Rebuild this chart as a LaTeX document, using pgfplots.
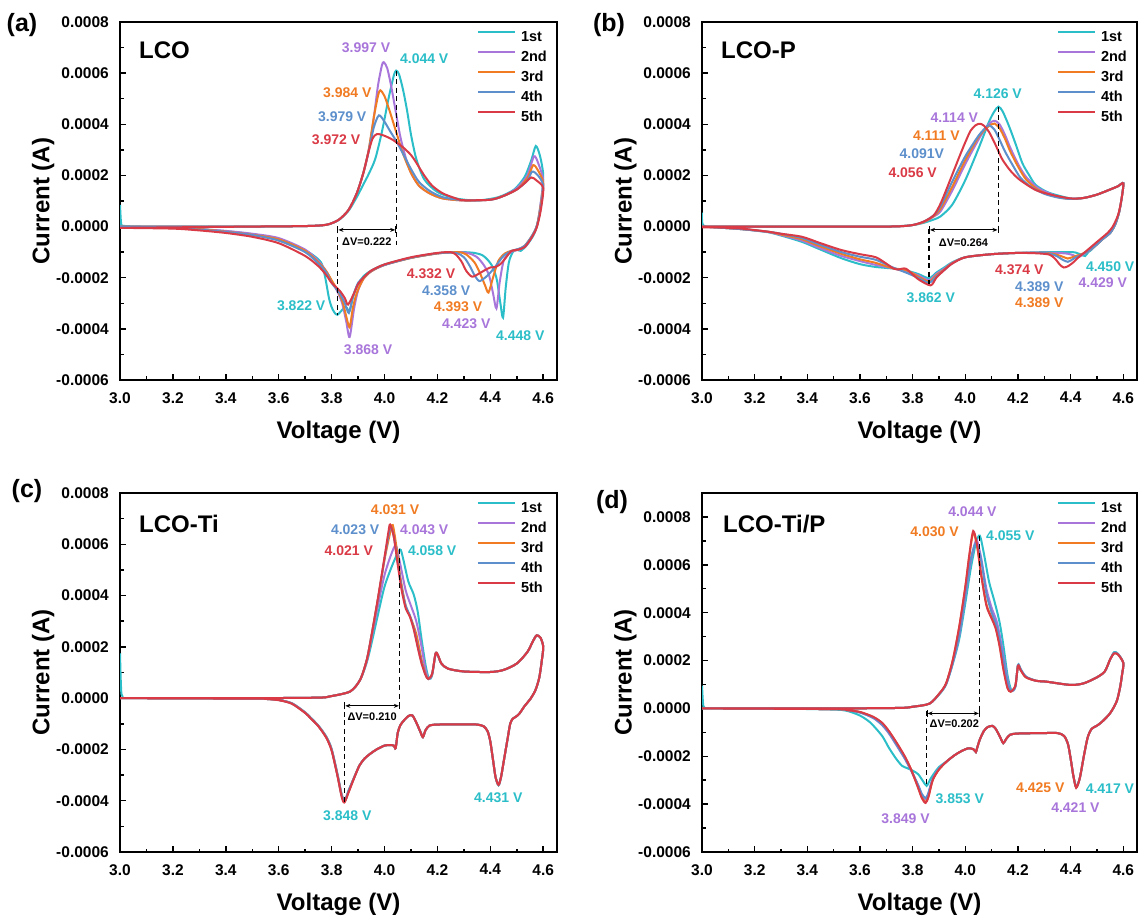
\documentclass[border=0pt]{standalone}
\usepackage{fontspec}
\setmainfont{Liberation Sans}
\usepackage{pgfplots}
\pgfplotsset{compat=1.18}
\usepackage{pgfplotstable}
\usetikzlibrary{arrows.meta}

\definecolor{c1}{RGB}{43,190,200}
\definecolor{c2}{RGB}{168,118,218}
\definecolor{c3}{RGB}{240,123,34}
\definecolor{c4}{RGB}{92,143,203}
\definecolor{c5}{RGB}{217,58,69}

% Cyclic voltammograms, five cycles per sample.
% V = voltage (V), i = current in units of 1e-4 A.
% Each table runs 3.0 -> 4.6 V (anodic) and back to 3.0 V (cathodic).

% ---------------- LCO ----------------
\pgfplotstableread{
V i
3.000 0.85
3.004 0.15
3.012 0.03
3.100 0.00
3.300 0.00
3.500 0.00
3.700 0.02
3.780 0.07
3.826 0.25
3.864 0.62
3.895 1.15
3.920 1.65
3.940 2.05
3.965 2.65
3.990 3.70
4.015 5.00
4.035 5.90
4.044 6.10
4.055 5.95
4.070 5.35
4.085 4.55
4.100 3.60
4.120 2.65
4.150 1.85
4.200 1.35
4.270 1.10
4.350 1.02
4.430 1.15
4.490 1.45
4.530 1.95
4.555 2.60
4.572 3.15
4.588 2.75
4.600 2.00
4.592 1.00
4.580 0.20
4.565 -0.30
4.540 -0.70
4.515 -0.95
4.500 -0.90
4.485 -1.00
4.470 -1.40
4.458 -2.40
4.448 -3.56
4.438 -3.00
4.425 -2.10
4.410 -1.60
4.390 -1.30
4.370 -1.12
4.340 -1.03
4.300 -1.00
4.250 -1.00
4.200 -1.05
4.100 -1.22
4.000 -1.48
3.950 -1.72
3.920 -1.95
3.895 -2.35
3.880 -2.80
3.868 -3.30
3.855 -3.15
3.845 -3.20
3.822 -3.45
3.810 -3.35
3.800 -3.15
3.790 -2.80
3.775 -1.95
3.760 -1.40
3.720 -1.05
3.650 -0.70
3.600 -0.50
3.500 -0.30
3.400 -0.18
3.300 -0.10
3.200 -0.05
3.100 -0.02
3.000 0.00
}\Aone
\pgfplotstableread{
V i
3.000 0.00
3.300 0.00
3.500 0.00
3.700 0.02
3.780 0.07
3.826 0.26
3.864 0.65
3.895 1.30
3.920 2.10
3.940 2.95
3.960 4.30
3.975 5.50
3.990 6.30
3.997 6.43
4.010 6.20
4.025 5.50
4.044 4.40
4.060 3.50
4.080 2.70
4.100 2.10
4.130 1.60
4.170 1.30
4.220 1.10
4.300 1.02
4.400 1.05
4.450 1.20
4.500 1.50
4.540 2.00
4.565 2.75
4.582 2.45
4.600 1.80
4.590 0.90
4.578 0.10
4.560 -0.35
4.535 -0.75
4.510 -0.90
4.490 -0.95
4.470 -1.05
4.450 -1.35
4.435 -2.20
4.423 -3.20
4.410 -2.60
4.395 -1.90
4.375 -1.50
4.350 -1.20
4.320 -1.05
4.280 -1.00
4.200 -1.05
4.100 -1.22
4.000 -1.50
3.950 -1.75
3.920 -2.05
3.900 -2.50
3.885 -3.20
3.868 -4.32
3.855 -3.70
3.840 -3.00
3.820 -2.50
3.800 -2.15
3.780 -1.75
3.750 -1.35
3.700 -0.90
3.600 -0.45
3.500 -0.28
3.400 -0.17
3.300 -0.10
3.200 -0.05
3.000 0.00
}\Atwo
\pgfplotstableread{
V i
3.000 0.00
3.300 0.00
3.500 0.00
3.700 0.02
3.780 0.07
3.826 0.26
3.864 0.65
3.895 1.30
3.920 2.10
3.940 3.00
3.960 4.30
3.975 5.10
3.984 5.33
4.000 5.10
4.020 4.50
4.044 3.70
4.070 2.85
4.100 2.10
4.130 1.60
4.170 1.30
4.220 1.10
4.300 1.02
4.400 1.05
4.450 1.20
4.500 1.45
4.540 1.90
4.562 2.40
4.580 2.20
4.600 1.70
4.590 0.80
4.575 0.00
4.555 -0.40
4.530 -0.75
4.505 -0.90
4.480 -0.95
4.455 -1.05
4.430 -1.35
4.410 -2.00
4.393 -2.58
4.380 -2.30
4.360 -1.80
4.340 -1.40
4.310 -1.10
4.280 -1.00
4.200 -1.05
4.100 -1.23
4.000 -1.50
3.950 -1.75
3.920 -2.05
3.895 -2.60
3.880 -3.20
3.868 -3.94
3.855 -3.50
3.840 -2.90
3.820 -2.45
3.800 -2.10
3.780 -1.75
3.750 -1.40
3.700 -0.95
3.600 -0.50
3.500 -0.32
3.400 -0.20
3.300 -0.10
3.200 -0.05
3.000 0.00
}\Athree
\pgfplotstableread{
V i
3.000 0.00
3.300 0.00
3.500 0.00
3.700 0.02
3.780 0.07
3.826 0.26
3.864 0.65
3.895 1.30
3.920 2.10
3.940 2.95
3.960 3.90
3.979 4.35
4.000 4.10
4.020 3.75
4.044 3.35
4.070 2.85
4.100 2.25
4.130 1.75
4.170 1.40
4.220 1.15
4.300 1.03
4.400 1.05
4.450 1.20
4.500 1.45
4.540 1.80
4.558 2.15
4.580 2.00
4.600 1.60
4.590 0.70
4.575 0.00
4.555 -0.40
4.530 -0.75
4.505 -0.88
4.480 -0.95
4.450 -1.15
4.420 -1.55
4.400 -1.80
4.380 -2.00
4.358 -2.13
4.340 -1.90
4.320 -1.50
4.300 -1.20
4.270 -1.03
4.200 -1.04
4.100 -1.22
4.000 -1.50
3.950 -1.73
3.920 -2.00
3.900 -2.20
3.880 -2.75
3.865 -3.38
3.850 -3.00
3.830 -2.60
3.800 -2.20
3.780 -1.80
3.750 -1.45
3.700 -1.00
3.600 -0.55
3.500 -0.33
3.400 -0.21
3.300 -0.12
3.200 -0.06
3.000 -0.02
}\Afour
\pgfplotstableread{
V i
3.000 -0.05
3.300 -0.02
3.500 0.00
3.700 0.02
3.780 0.07
3.826 0.26
3.864 0.65
3.895 1.30
3.920 2.10
3.939 2.90
3.955 3.45
3.972 3.62
4.000 3.55
4.030 3.40
4.044 3.30
4.070 3.10
4.100 2.80
4.120 2.50
4.150 2.00
4.180 1.60
4.220 1.30
4.270 1.10
4.300 1.03
4.400 1.05
4.450 1.20
4.500 1.45
4.530 1.70
4.555 1.92
4.575 1.80
4.600 1.50
4.590 0.60
4.575 -0.05
4.555 -0.45
4.530 -0.80
4.505 -0.90
4.480 -0.95
4.460 -1.20
4.440 -1.45
4.420 -1.58
4.400 -1.60
4.380 -1.70
4.360 -1.82
4.332 -1.96
4.310 -1.75
4.290 -1.35
4.270 -1.10
4.250 -1.00
4.200 -1.03
4.100 -1.20
4.000 -1.48
3.950 -1.72
3.920 -2.00
3.900 -2.25
3.885 -2.60
3.862 -3.05
3.850 -2.80
3.830 -2.50
3.800 -2.20
3.780 -1.90
3.750 -1.55
3.700 -1.15
3.600 -0.65
3.500 -0.40
3.400 -0.25
3.300 -0.15
3.200 -0.08
3.000 -0.05
}\Afive

% ---------------- LCO-P ----------------
\pgfplotstableread{
V i
3.000 0.55
3.004 0.05
3.050 0.00
3.300 0.00
3.500 0.00
3.700 0.00
3.794 0.05
3.843 0.15
3.881 0.28
3.906 0.40
3.950 0.85
4.000 1.82
4.050 3.05
4.090 4.10
4.110 4.50
4.126 4.69
4.142 4.50
4.167 3.90
4.192 3.20
4.217 2.47
4.242 2.02
4.267 1.63
4.316 1.33
4.400 1.10
4.450 1.12
4.500 1.25
4.550 1.45
4.580 1.58
4.600 1.70
4.595 1.20
4.585 0.60
4.570 0.10
4.550 -0.25
4.520 -0.50
4.500 -0.68
4.480 -0.90
4.467 -1.00
4.455 -1.15
4.440 -1.10
4.420 -1.02
4.400 -1.00
4.300 -1.00
4.200 -1.03
4.100 -1.08
4.000 -1.20
3.950 -1.40
3.920 -1.60
3.890 -1.80
3.862 -2.02
3.820 -1.85
3.775 -1.72
3.725 -1.64
3.660 -1.58
3.600 -1.47
3.530 -1.24
3.450 -0.90
3.380 -0.60
3.300 -0.35
3.250 -0.22
3.150 -0.10
3.050 -0.03
3.000 0.00
}\Bone
\pgfplotstableread{
V i
3.000 0.00
3.300 0.00
3.700 0.00
3.794 0.05
3.843 0.18
3.881 0.40
3.906 0.60
3.950 1.40
4.000 2.45
4.050 3.40
4.080 3.90
4.100 4.10
4.114 4.13
4.130 4.00
4.150 3.60
4.170 3.10
4.200 2.45
4.230 1.95
4.270 1.55
4.300 1.38
4.350 1.18
4.400 1.09
4.450 1.12
4.500 1.25
4.550 1.45
4.580 1.58
4.600 1.70
4.595 1.20
4.585 0.60
4.570 0.10
4.550 -0.25
4.520 -0.50
4.500 -0.70
4.470 -0.95
4.445 -1.10
4.429 -1.20
4.410 -1.12
4.380 -1.05
4.300 -1.02
4.200 -1.03
4.100 -1.08
4.000 -1.20
3.950 -1.42
3.920 -1.65
3.890 -1.85
3.862 -2.10
3.820 -1.90
3.775 -1.75
3.725 -1.63
3.660 -1.50
3.600 -1.35
3.530 -1.15
3.450 -0.85
3.380 -0.55
3.300 -0.33
3.250 -0.21
3.150 -0.10
3.050 -0.03
3.000 0.00
}\Btwo
\pgfplotstableread{
V i
3.000 0.00
3.300 0.00
3.700 0.00
3.794 0.05
3.843 0.18
3.881 0.42
3.906 0.70
3.950 1.55
4.000 2.60
4.050 3.50
4.080 3.85
4.100 4.00
4.111 4.03
4.130 3.85
4.150 3.45
4.170 2.95
4.200 2.35
4.230 1.85
4.270 1.48
4.300 1.32
4.350 1.15
4.400 1.08
4.450 1.12
4.500 1.25
4.550 1.45
4.580 1.58
4.600 1.70
4.595 1.20
4.585 0.60
4.570 0.10
4.550 -0.25
4.520 -0.50
4.500 -0.70
4.460 -1.00
4.420 -1.15
4.400 -1.22
4.389 -1.25
4.370 -1.18
4.340 -1.08
4.300 -1.03
4.200 -1.03
4.100 -1.08
4.000 -1.20
3.950 -1.43
3.920 -1.68
3.890 -1.90
3.862 -2.15
3.820 -1.95
3.775 -1.70
3.725 -1.63
3.660 -1.42
3.600 -1.28
3.530 -1.07
3.450 -0.78
3.380 -0.50
3.300 -0.31
3.250 -0.20
3.150 -0.10
3.050 -0.03
3.000 0.00
}\Bthree
\pgfplotstableread{
V i
3.000 0.00
3.300 0.00
3.700 0.00
3.794 0.05
3.843 0.20
3.881 0.45
3.906 0.80
3.950 1.75
4.000 2.75
4.050 3.55
4.080 3.90
4.091 3.96
4.110 3.80
4.130 3.40
4.150 2.95
4.180 2.40
4.210 1.90
4.250 1.55
4.300 1.28
4.350 1.14
4.400 1.08
4.450 1.12
4.500 1.25
4.550 1.45
4.580 1.58
4.600 1.70
4.595 1.20
4.585 0.60
4.570 0.10
4.550 -0.25
4.520 -0.50
4.500 -0.70
4.460 -1.00
4.420 -1.20
4.400 -1.33
4.389 -1.38
4.370 -1.30
4.340 -1.12
4.300 -1.04
4.200 -1.03
4.100 -1.08
4.000 -1.20
3.950 -1.44
3.920 -1.70
3.890 -1.95
3.862 -2.20
3.820 -2.00
3.775 -1.80
3.725 -1.60
3.660 -1.30
3.600 -1.18
3.530 -1.00
3.450 -0.72
3.380 -0.45
3.300 -0.28
3.250 -0.20
3.150 -0.10
3.050 -0.03
3.000 0.00
}\Bfour
\pgfplotstableread{
V i
3.000 0.00
3.300 0.00
3.700 0.00
3.794 0.05
3.843 0.20
3.881 0.45
3.906 0.90
3.930 1.50
3.950 2.02
3.980 2.80
4.000 3.30
4.020 3.75
4.040 3.97
4.056 4.02
4.070 3.95
4.090 3.70
4.110 3.30
4.130 2.85
4.142 2.60
4.170 2.20
4.204 1.85
4.267 1.43
4.329 1.24
4.400 1.10
4.450 1.12
4.500 1.25
4.550 1.45
4.580 1.58
4.600 1.68
4.592 1.00
4.580 0.45
4.560 0.00
4.540 -0.25
4.500 -0.60
4.460 -0.95
4.430 -1.20
4.410 -1.40
4.390 -1.55
4.374 -1.60
4.360 -1.50
4.340 -1.25
4.320 -1.10
4.280 -1.05
4.200 -1.03
4.100 -1.08
4.000 -1.20
3.950 -1.45
3.920 -1.70
3.890 -2.00
3.868 -2.30
3.820 -2.05
3.775 -1.65
3.745 -1.68
3.725 -1.63
3.700 -1.45
3.660 -1.20
3.600 -1.08
3.530 -0.92
3.450 -0.65
3.380 -0.40
3.300 -0.28
3.250 -0.20
3.150 -0.08
3.050 -0.03
3.000 -0.03
}\Bfive

% ---------------- LCO-Ti ----------------
\pgfplotstableread{
V i
3.000 1.75
3.004 0.40
3.010 0.05
3.050 0.00
3.500 0.00
3.750 0.02
3.794 0.07
3.870 0.26
3.908 0.72
3.933 1.40
3.950 2.10
3.975 3.25
4.000 4.35
4.030 5.20
4.058 5.80
4.070 5.45
4.090 4.55
4.110 4.05
4.125 3.40
4.140 2.30
4.155 1.30
4.168 0.75
4.180 0.90
4.193 1.72
4.202 1.65
4.215 1.35
4.240 1.15
4.300 1.04
4.400 1.02
4.450 1.10
4.500 1.35
4.540 1.80
4.560 2.20
4.575 2.45
4.590 2.35
4.600 2.00
4.595 1.50
4.585 0.80
4.570 0.30
4.550 -0.05
4.530 -0.30
4.510 -0.60
4.497 -0.72
4.485 -0.80
4.475 -1.00
4.465 -1.60
4.450 -2.50
4.440 -3.10
4.431 -3.40
4.420 -3.10
4.410 -2.40
4.400 -1.70
4.390 -1.30
4.375 -1.10
4.350 -1.03
4.300 -1.02
4.200 -1.03
4.170 -1.07
4.155 -1.25
4.145 -1.52
4.135 -1.30
4.120 -0.95
4.105 -0.67
4.090 -0.70
4.075 -0.85
4.060 -1.05
4.050 -1.35
4.042 -1.95
4.035 -1.85
4.020 -1.83
4.000 -1.85
3.970 -2.00
3.946 -2.17
3.925 -2.35
3.905 -2.63
3.885 -3.10
3.864 -3.60
3.850 -3.98
3.838 -3.75
3.823 -3.00
3.800 -1.98
3.780 -1.50
3.750 -1.07
3.720 -0.75
3.700 -0.55
3.650 -0.20
3.600 -0.07
3.550 -0.03
3.500 -0.02
3.000 0.00
}\Cone
\pgfplotstableread{
V i
3.000 0.00
3.050 0.00
3.500 0.00
3.750 0.02
3.794 0.07
3.870 0.26
3.908 0.72
3.933 1.45
3.950 2.30
3.975 3.60
4.000 4.80
4.025 5.60
4.043 5.95
4.060 5.20
4.080 4.20
4.100 3.60
4.120 3.00
4.140 2.00
4.155 1.10
4.167 0.75
4.180 0.92
4.193 1.73
4.202 1.66
4.215 1.35
4.240 1.15
4.300 1.04
4.400 1.02
4.450 1.10
4.500 1.35
4.540 1.80
4.560 2.20
4.575 2.45
4.590 2.35
4.600 2.00
4.595 1.50
4.585 0.80
4.570 0.30
4.550 -0.05
4.530 -0.30
4.510 -0.60
4.497 -0.72
4.485 -0.80
4.475 -1.00
4.465 -1.60
4.450 -2.50
4.440 -3.10
4.431 -3.38
4.420 -3.10
4.410 -2.40
4.400 -1.70
4.390 -1.30
4.375 -1.10
4.350 -1.03
4.300 -1.02
4.200 -1.03
4.170 -1.07
4.155 -1.25
4.145 -1.52
4.135 -1.30
4.120 -0.95
4.105 -0.67
4.090 -0.70
4.075 -0.85
4.060 -1.05
4.050 -1.35
4.042 -1.95
4.035 -1.85
4.020 -1.83
4.000 -1.85
3.970 -2.00
3.946 -2.17
3.925 -2.35
3.905 -2.63
3.885 -3.10
3.864 -3.62
3.850 -4.00
3.838 -3.78
3.823 -3.02
3.800 -2.00
3.780 -1.52
3.750 -1.08
3.720 -0.76
3.700 -0.56
3.650 -0.20
3.600 -0.07
3.550 -0.03
3.500 -0.02
3.000 0.00
}\Ctwo
\pgfplotstableread{
V i
3.000 0.00
3.050 0.00
3.500 0.00
3.750 0.02
3.794 0.07
3.870 0.26
3.908 0.72
3.933 1.50
3.950 2.40
3.975 3.85
4.000 5.40
4.020 6.40
4.031 6.75
4.045 5.90
4.060 4.70
4.080 3.60
4.100 3.10
4.120 2.50
4.140 1.50
4.155 0.95
4.166 0.75
4.180 0.95
4.193 1.74
4.202 1.66
4.215 1.35
4.240 1.15
4.300 1.04
4.400 1.02
4.450 1.10
4.500 1.35
4.540 1.80
4.560 2.20
4.575 2.45
4.590 2.35
4.600 2.00
4.595 1.50
4.585 0.80
4.570 0.30
4.550 -0.05
4.530 -0.30
4.510 -0.60
4.497 -0.72
4.485 -0.80
4.475 -1.00
4.465 -1.60
4.450 -2.50
4.440 -3.10
4.431 -3.38
4.420 -3.10
4.410 -2.40
4.400 -1.70
4.390 -1.30
4.375 -1.10
4.350 -1.03
4.300 -1.02
4.200 -1.03
4.170 -1.07
4.155 -1.25
4.145 -1.52
4.135 -1.30
4.120 -0.95
4.105 -0.67
4.090 -0.70
4.075 -0.85
4.060 -1.05
4.050 -1.35
4.042 -1.95
4.035 -1.85
4.020 -1.83
4.000 -1.85
3.970 -2.00
3.946 -2.17
3.925 -2.35
3.905 -2.63
3.885 -3.10
3.864 -3.65
3.850 -4.03
3.838 -3.80
3.823 -3.05
3.800 -2.02
3.780 -1.53
3.750 -1.09
3.720 -0.77
3.700 -0.57
3.650 -0.21
3.600 -0.07
3.550 -0.03
3.500 -0.02
3.000 0.00
}\Cthree
\pgfplotstableread{
V i
3.000 0.00
3.050 0.00
3.500 0.00
3.750 0.02
3.794 0.07
3.870 0.26
3.908 0.72
3.933 1.50
3.950 2.40
3.975 3.85
4.000 5.45
4.015 6.35
4.023 6.70
4.035 6.30
4.050 5.30
4.065 4.30
4.080 3.60
4.095 3.25
4.110 2.75
4.125 2.05
4.140 1.40
4.155 0.92
4.166 0.75
4.180 0.95
4.193 1.74
4.202 1.66
4.215 1.35
4.240 1.15
4.300 1.04
4.400 1.02
4.450 1.10
4.500 1.35
4.540 1.80
4.560 2.20
4.575 2.45
4.590 2.35
4.600 2.00
4.595 1.50
4.585 0.80
4.570 0.30
4.550 -0.05
4.530 -0.30
4.510 -0.60
4.497 -0.72
4.485 -0.80
4.475 -1.00
4.465 -1.60
4.450 -2.50
4.440 -3.10
4.431 -3.38
4.420 -3.10
4.410 -2.40
4.400 -1.70
4.390 -1.30
4.375 -1.10
4.350 -1.03
4.300 -1.02
4.200 -1.03
4.170 -1.07
4.155 -1.25
4.145 -1.52
4.135 -1.30
4.120 -0.95
4.105 -0.67
4.090 -0.70
4.075 -0.85
4.060 -1.05
4.050 -1.35
4.042 -1.95
4.035 -1.85
4.020 -1.83
4.000 -1.85
3.970 -2.00
3.946 -2.17
3.925 -2.35
3.905 -2.63
3.885 -3.10
3.864 -3.63
3.850 -4.02
3.838 -3.80
3.823 -3.05
3.800 -2.02
3.780 -1.53
3.750 -1.09
3.720 -0.77
3.700 -0.57
3.650 -0.21
3.600 -0.07
3.550 -0.03
3.500 -0.02
3.000 0.00
}\Cfour
\pgfplotstableread{
V i
3.000 0.00
3.050 0.00
3.500 0.00
3.750 0.02
3.794 0.07
3.870 0.26
3.908 0.72
3.933 1.50
3.950 2.40
3.975 3.90
4.000 5.50
4.015 6.50
4.021 6.77
4.035 6.30
4.050 5.20
4.065 4.20
4.080 3.50
4.095 3.20
4.110 2.70
4.125 2.00
4.140 1.35
4.155 0.90
4.165 0.75
4.180 0.95
4.193 1.75
4.202 1.68
4.215 1.35
4.240 1.15
4.300 1.04
4.400 1.02
4.450 1.10
4.500 1.35
4.540 1.80
4.560 2.20
4.575 2.45
4.590 2.35
4.600 2.00
4.595 1.50
4.585 0.80
4.570 0.30
4.550 -0.05
4.530 -0.30
4.510 -0.60
4.497 -0.72
4.485 -0.80
4.475 -1.00
4.465 -1.60
4.450 -2.50
4.440 -3.10
4.431 -3.38
4.420 -3.10
4.410 -2.40
4.400 -1.70
4.390 -1.30
4.375 -1.10
4.350 -1.03
4.300 -1.02
4.200 -1.03
4.170 -1.07
4.155 -1.25
4.145 -1.52
4.135 -1.30
4.120 -0.95
4.105 -0.67
4.090 -0.70
4.075 -0.85
4.060 -1.05
4.050 -1.35
4.042 -1.95
4.035 -1.85
4.020 -1.83
4.000 -1.85
3.970 -2.00
3.946 -2.17
3.925 -2.35
3.905 -2.63
3.885 -3.12
3.864 -3.68
3.848 -4.07
3.838 -3.85
3.823 -3.08
3.800 -2.05
3.780 -1.55
3.750 -1.10
3.720 -0.78
3.700 -0.58
3.650 -0.22
3.600 -0.08
3.550 -0.03
3.500 -0.02
3.000 0.00
}\Cfive

% ---------------- LCO-Ti/P ----------------
\pgfplotstableread{
V i
3.000 0.95
3.004 0.20
3.010 0.03
3.050 0.00
3.500 0.00
3.750 0.02
3.801 0.07
3.864 0.20
3.902 0.60
3.927 1.00
3.952 1.85
3.977 2.90
4.000 4.40
4.020 5.80
4.040 6.90
4.055 7.22
4.070 6.50
4.090 5.30
4.110 4.50
4.130 3.60
4.145 2.60
4.160 1.40
4.175 0.75
4.190 0.90
4.200 1.82
4.210 1.65
4.230 1.33
4.270 1.15
4.306 1.12
4.400 0.98
4.450 1.05
4.500 1.30
4.530 1.55
4.550 2.05
4.565 2.35
4.580 2.28
4.600 1.90
4.595 1.40
4.588 0.90
4.575 0.30
4.550 -0.20
4.520 -0.55
4.500 -0.72
4.480 -0.85
4.465 -1.20
4.450 -2.00
4.435 -2.90
4.421 -3.28
4.410 -2.80
4.400 -2.10
4.390 -1.50
4.375 -1.15
4.350 -1.03
4.300 -1.03
4.200 -1.05
4.170 -1.10
4.155 -1.28
4.144 -1.45
4.130 -1.15
4.115 -0.85
4.103 -0.73
4.085 -0.78
4.070 -0.95
4.055 -1.30
4.045 -1.65
4.040 -1.82
4.030 -1.70
4.010 -1.67
3.986 -1.78
3.960 -1.95
3.931 -2.20
3.900 -2.45
3.876 -2.80
3.865 -3.00
3.853 -3.24
3.840 -3.05
3.821 -2.75
3.800 -2.60
3.780 -2.50
3.760 -2.40
3.739 -2.13
3.710 -1.65
3.684 -1.15
3.640 -0.60
3.600 -0.30
3.550 -0.10
3.500 -0.05
3.300 -0.01
3.000 0.00
}\Done
\pgfplotstableread{
V i
3.000 0.00
3.050 0.00
3.500 0.00
3.750 0.02
3.801 0.07
3.864 0.20
3.902 0.62
3.927 1.02
3.952 1.90
3.977 3.05
4.000 4.70
4.020 6.10
4.035 6.85
4.044 7.03
4.060 6.30
4.080 5.00
4.100 4.20
4.120 3.60
4.140 2.50
4.160 1.20
4.174 0.72
4.190 0.92
4.200 1.80
4.210 1.63
4.230 1.32
4.270 1.15
4.306 1.12
4.400 0.98
4.450 1.05
4.500 1.30
4.530 1.55
4.550 2.05
4.565 2.32
4.580 2.26
4.600 1.90
4.595 1.40
4.588 0.90
4.575 0.30
4.550 -0.20
4.520 -0.55
4.500 -0.72
4.480 -0.85
4.465 -1.20
4.450 -2.00
4.435 -2.90
4.421 -3.30
4.410 -2.80
4.400 -2.10
4.390 -1.50
4.375 -1.15
4.350 -1.03
4.300 -1.03
4.200 -1.05
4.170 -1.10
4.155 -1.28
4.144 -1.45
4.130 -1.15
4.115 -0.85
4.103 -0.73
4.085 -0.78
4.070 -0.95
4.055 -1.30
4.045 -1.65
4.040 -1.82
4.030 -1.70
4.010 -1.67
3.986 -1.78
3.960 -1.95
3.931 -2.20
3.900 -2.52
3.876 -2.95
3.860 -3.55
3.849 -3.80
3.835 -3.60
3.820 -3.20
3.794 -2.60
3.770 -2.10
3.739 -1.55
3.710 -1.05
3.684 -0.70
3.650 -0.40
3.600 -0.17
3.550 -0.07
3.500 -0.03
3.000 0.00
}\Dtwo
\pgfplotstableread{
V i
3.000 0.00
3.050 0.00
3.500 0.00
3.750 0.02
3.801 0.07
3.864 0.20
3.902 0.63
3.927 1.05
3.952 2.00
3.977 3.40
4.000 5.05
4.015 6.35
4.030 7.35
4.045 6.75
4.060 5.60
4.080 4.35
4.100 3.80
4.115 3.40
4.130 2.65
4.145 1.65
4.160 0.88
4.172 0.70
4.190 0.95
4.200 1.78
4.210 1.60
4.230 1.30
4.270 1.15
4.306 1.12
4.400 0.98
4.450 1.05
4.500 1.30
4.530 1.55
4.550 2.05
4.565 2.30
4.580 2.25
4.600 1.90
4.595 1.40
4.588 0.90
4.575 0.30
4.550 -0.20
4.520 -0.55
4.500 -0.72
4.480 -0.85
4.465 -1.20
4.450 -2.00
4.435 -2.90
4.421 -3.30
4.410 -2.80
4.400 -2.10
4.390 -1.50
4.375 -1.15
4.350 -1.03
4.300 -1.03
4.200 -1.05
4.170 -1.10
4.155 -1.28
4.144 -1.45
4.130 -1.15
4.115 -0.85
4.103 -0.73
4.085 -0.78
4.070 -0.95
4.055 -1.30
4.045 -1.65
4.040 -1.82
4.030 -1.70
4.010 -1.67
3.986 -1.78
3.960 -1.95
3.931 -2.20
3.900 -2.55
3.876 -3.00
3.860 -3.68
3.849 -3.92
3.835 -3.72
3.820 -3.28
3.794 -2.55
3.770 -2.02
3.739 -1.45
3.710 -0.96
3.684 -0.62
3.650 -0.36
3.600 -0.15
3.550 -0.07
3.500 -0.03
3.000 0.00
}\Dthree
\pgfplotstableread{
V i
3.000 0.00
3.050 0.00
3.500 0.00
3.750 0.02
3.801 0.07
3.864 0.20
3.902 0.62
3.927 1.02
3.952 1.90
3.977 3.10
4.000 4.80
4.020 6.20
4.040 6.90
4.060 6.20
4.080 4.80
4.100 4.00
4.120 3.40
4.140 2.30
4.160 1.10
4.174 0.72
4.190 0.92
4.200 1.80
4.210 1.63
4.230 1.32
4.270 1.15
4.306 1.12
4.400 0.98
4.450 1.05
4.500 1.30
4.530 1.55
4.550 2.05
4.565 2.32
4.580 2.26
4.600 1.90
4.595 1.40
4.588 0.90
4.575 0.30
4.550 -0.20
4.520 -0.55
4.500 -0.72
4.480 -0.85
4.465 -1.20
4.450 -2.00
4.435 -2.90
4.421 -3.28
4.410 -2.80
4.400 -2.10
4.390 -1.50
4.375 -1.15
4.350 -1.03
4.300 -1.03
4.200 -1.05
4.170 -1.10
4.155 -1.28
4.144 -1.45
4.130 -1.15
4.115 -0.85
4.103 -0.73
4.085 -0.78
4.070 -0.95
4.055 -1.30
4.045 -1.65
4.040 -1.82
4.030 -1.70
4.010 -1.67
3.986 -1.78
3.960 -1.95
3.931 -2.20
3.900 -2.52
3.876 -2.95
3.860 -3.52
3.850 -3.75
3.835 -3.58
3.820 -3.18
3.794 -2.58
3.770 -2.08
3.739 -1.52
3.710 -1.02
3.684 -0.68
3.650 -0.39
3.600 -0.17
3.550 -0.07
3.500 -0.03
3.000 0.00
}\Dfour
\pgfplotstableread{
V i
3.000 0.00
3.050 0.00
3.500 0.00
3.750 0.02
3.801 0.07
3.864 0.20
3.902 0.63
3.927 1.05
3.952 2.00
3.977 3.43
4.000 5.10
4.015 6.40
4.030 7.41
4.045 6.80
4.060 5.60
4.080 4.30
4.100 3.75
4.115 3.35
4.130 2.60
4.145 1.60
4.160 0.85
4.172 0.70
4.190 0.95
4.200 1.78
4.210 1.60
4.230 1.30
4.270 1.15
4.306 1.12
4.400 0.98
4.450 1.05
4.500 1.30
4.530 1.55
4.550 2.05
4.565 2.30
4.580 2.25
4.600 1.90
4.595 1.40
4.588 0.90
4.575 0.30
4.550 -0.20
4.520 -0.55
4.500 -0.72
4.480 -0.85
4.465 -1.20
4.450 -2.00
4.435 -2.90
4.421 -3.32
4.410 -2.80
4.400 -2.10
4.390 -1.50
4.375 -1.15
4.350 -1.03
4.300 -1.03
4.200 -1.05
4.170 -1.10
4.155 -1.28
4.144 -1.45
4.130 -1.15
4.115 -0.85
4.103 -0.73
4.085 -0.78
4.070 -0.95
4.055 -1.30
4.045 -1.65
4.040 -1.82
4.030 -1.70
4.010 -1.67
3.986 -1.78
3.960 -1.95
3.931 -2.20
3.900 -2.55
3.876 -3.00
3.860 -3.70
3.849 -3.95
3.835 -3.75
3.820 -3.30
3.794 -2.55
3.770 -2.00
3.739 -1.43
3.710 -0.95
3.684 -0.60
3.650 -0.35
3.600 -0.15
3.550 -0.07
3.500 -0.03
3.000 0.00
}\Dfive

\newcommand{\tickfont}{\fontsize{15.5}{16}\selectfont\bfseries}
\newcommand{\labfont}{\fontsize{24}{24}\selectfont\bfseries}
\newcommand{\annfont}{\fontsize{14}{14}\selectfont\bfseries}

\tikzset{
  ann/.style={font=\annfont},
  dv/.style={black, line width=1.2pt, dash pattern=on 5pt off 3.5pt},
  dvarrow/.style={black, line width=1pt, |<->|, >={Stealth[length=5pt,width=4pt]}},
}

\pgfplotsset{
  cv/.style={
    scale only axis,
    xmin=3, xmax=4.652, ymin=-6, ymax=8,
    xtick={3,3.2,3.4,3.6,3.8,4,4.2,4.4,4.6},
    xticklabels={3.0,3.2,3.4,3.6,3.8,4.0,4.2,4.4,4.6},
    ytick={-6,-4,-2,0,2,4,6,8},
    yticklabels={-0.0006,-0.0004,-0.0002,0.0000,0.0002,0.0004,0.0006,0.0008},
    minor x tick num=1, minor y tick num=1,
    tick align=inside, tick pos=left,
    major tick length=6pt, minor tick length=3.5pt,
    tick style={black, line width=1.5pt},
    axis line style={line width=1.6pt},
    ticklabel style={font=\tickfont, inner sep=0pt},
    xticklabel shift=12pt, yticklabel shift=11pt,
    xlabel={Voltage (V)}, ylabel={Current (A)},
    xlabel style={at={(axis description cs:0.5,-0.145)}, anchor=center, font=\labfont},
    ylabel style={at={(axis description cs:-0.176,0.5)}, anchor=center, font=\labfont},
    every axis plot/.append style={line width=2pt, smooth, tension=0.45},
    legend entries={1st,2nd,3rd,4th,5th},
    legend cell align=left,
    legend style={at={(axis description cs:1,1)}, anchor=north east,
      xshift=-10pt, yshift=-8pt, draw=none, fill=none, inner sep=0pt,
      row sep=6pt, column sep=5pt, font=\fontsize{14.5}{15}\selectfont\bfseries,
      nodes={inner sep=0pt, text height=11pt, text depth=3pt}},
    legend image code/.code={\draw[#1, line width=2.2pt] (0pt,5pt) -- (37pt,5pt);},
  },
}

\begin{document}
\begin{tikzpicture}
\useasboundingbox (0,0) rectangle (1142pt,919pt);

% (a) LCO
\begin{axis}[cv, at={(120pt,539pt)}, anchor=south west, width=437pt, height=358pt]
\addplot[c1] table {\Aone};
\addplot[c2] table {\Atwo};
\addplot[c3] table {\Athree};
\addplot[c4] table {\Afour};
\addplot[c5] table {\Afive};
\draw[dv] (axis cs:3.822,-0.07) -- (axis cs:3.822,-3.45);
\draw[dv] (axis cs:4.044,6.10) -- (axis cs:4.044,-0.72);
\draw[dvarrow] (axis cs:3.822,-0.13) -- (axis cs:4.044,-0.13);
\node[font=\fontsize{11}{11}\selectfont\bfseries] at (axis cs:3.933,-0.59) {ΔV=0.222};
\node[ann, text=c2] at (axis cs:3.930,6.98) {3.997 V};
\node[ann, text=c1] at (axis cs:4.150,6.55) {4.044 V};
\node[ann, text=c3] at (axis cs:3.859,5.22) {3.984 V};
\node[ann, text=c4] at (axis cs:3.840,4.29) {3.979 V};
\node[ann, text=c5] at (axis cs:3.817,3.39) {3.972 V};
\node[ann, text=c1] at (axis cs:3.685,-3.11) {3.822 V};
\node[ann, text=c2] at (axis cs:3.938,-4.83) {3.868 V};
\node[ann, text=c5] at (axis cs:4.176,-1.85) {4.332 V};
\node[ann, text=c4] at (axis cs:4.233,-2.52) {4.358 V};
\node[ann, text=c3] at (axis cs:4.278,-3.14) {4.393 V};
\node[ann, text=c2] at (axis cs:4.309,-3.81) {4.423 V};
\node[ann, text=c1] at (axis cs:4.513,-4.28) {4.448 V};
\end{axis}

% (b) LCO-P
\begin{axis}[cv, at={(702pt,539pt)}, anchor=south west, width=435pt, height=358pt]
\addplot[c1] table {\Bone};
\addplot[c2] table {\Btwo};
\addplot[c3] table {\Bthree};
\addplot[c4] table {\Bfour};
\addplot[c5] table {\Bfive};
\draw[dv] (axis cs:3.862,-0.10) -- (axis cs:3.862,-2.25);
\draw[dv] (axis cs:4.126,4.69) -- (axis cs:4.126,-0.18);
\draw[dvarrow] (axis cs:3.862,-0.13) -- (axis cs:4.126,-0.13);
\node[font=\fontsize{11}{11}\selectfont\bfseries] at (axis cs:3.993,-0.63) {ΔV=0.264};
\node[ann, text=c1] at (axis cs:4.123,5.21) {4.126 V};
\node[ann, text=c2] at (axis cs:3.958,4.24) {4.114 V};
\node[ann, text=c3] at (axis cs:3.890,3.54) {4.111 V};
\node[ann, text=c4] at (axis cs:3.835,2.84) {4.091V};
\node[ann, text=c5] at (axis cs:3.800,2.09) {4.056 V};
\node[ann, text=c1] at (axis cs:3.869,-2.78) {3.862 V};
\node[ann, text=c5] at (axis cs:4.205,-1.70) {4.374 V};
\node[ann, text=c4] at (axis cs:4.281,-2.35) {4.389 V};
\node[ann, text=c3] at (axis cs:4.281,-2.99) {4.389 V};
\node[ann, text=c1] at (axis cs:4.550,-1.57) {4.450 V};
\node[ann, text=c2] at (axis cs:4.522,-2.19) {4.429 V};
\end{axis}

% (c) LCO-Ti
\begin{axis}[cv, at={(120pt,67pt)}, anchor=south west, width=437pt, height=359pt]
\addplot[c1] table {\Cone};
\addplot[c2] table {\Ctwo};
\addplot[c3] table {\Cthree};
\addplot[c4] table {\Cfour};
\addplot[c5] table {\Cfive};
\draw[dv] (axis cs:3.848,-0.20) -- (axis cs:3.848,-4.05);
\draw[dv] (axis cs:4.058,5.80) -- (axis cs:4.058,-0.38);
\draw[dvarrow] (axis cs:3.848,-0.30) -- (axis cs:4.058,-0.30);
\node[font=\fontsize{11}{11}\selectfont\bfseries] at (axis cs:3.953,-0.72) {ΔV=0.210};
\node[ann, text=c3] at (axis cs:4.040,7.33) {4.031 V};
\node[ann, text=c4] at (axis cs:3.889,6.55) {4.023 V};
\node[ann, text=c2] at (axis cs:4.150,6.55) {4.043 V};
\node[ann, text=c5] at (axis cs:3.865,5.77) {4.021 V};
\node[ann, text=c1] at (axis cs:4.180,5.77) {4.058 V};
\node[ann, text=c1] at (axis cs:3.859,-4.60) {3.848 V};
\node[ann, text=c1] at (axis cs:4.430,-3.90) {4.431 V};
\end{axis}

% (d) LCO-Ti/P
\begin{axis}[cv, at={(702pt,67pt)}, anchor=south west, width=435pt, height=359pt, ymax=9]
\addplot[c1] table {\Done};
\addplot[c2] table {\Dtwo};
\addplot[c3] table {\Dthree};
\addplot[c4] table {\Dfour};
\addplot[c5] table {\Dfive};
\draw[dv] (axis cs:3.853,-0.10) -- (axis cs:3.853,-3.24);
\draw[dv] (axis cs:4.055,7.22) -- (axis cs:4.055,-0.32);
\draw[dvarrow] (axis cs:3.853,-0.21) -- (axis cs:4.055,-0.21);
\node[font=\fontsize{11}{11}\selectfont\bfseries] at (axis cs:3.958,-0.66) {ΔV=0.202};
\node[ann, text=c2] at (axis cs:4.027,8.22) {4.044 V};
\node[ann, text=c3] at (axis cs:3.883,7.38) {4.030 V};
\node[ann, text=c1] at (axis cs:4.171,7.22) {4.055 V};
\node[ann, text=c1] at (axis cs:3.979,-3.78) {3.853 V};
\node[ann, text=c2] at (axis cs:3.773,-4.62) {3.849 V};
\node[ann, text=c3] at (axis cs:4.285,-3.32) {4.425 V};
\node[ann, text=c1] at (axis cs:4.549,-3.36) {4.417 V};
\node[ann, text=c2] at (axis cs:4.418,-4.15) {4.421 V};
\end{axis}

% panel letters and sample names
\node[font=\fontsize{25}{25}\selectfont\bfseries] at (22pt,894pt) {(a)};
\node[font=\fontsize{25}{25}\selectfont\bfseries] at (609pt,894pt) {(b)};
\node[font=\fontsize{25}{25}\selectfont\bfseries] at (27pt,428pt) {(c)};
\node[font=\fontsize{25}{25}\selectfont\bfseries] at (612pt,417pt) {(d)};
\node[font=\labfont, anchor=west, inner sep=0pt] at (139pt,869pt) {LCO};
\node[font=\labfont, anchor=west, inner sep=0pt] at (721pt,869pt) {LCO-P};
\node[font=\labfont, anchor=west, inner sep=0pt] at (139pt,395pt) {LCO-Ti};
\node[font=\labfont, anchor=west, inner sep=0pt] at (723pt,395pt) {LCO-Ti/P};
\end{tikzpicture}
\end{document}
